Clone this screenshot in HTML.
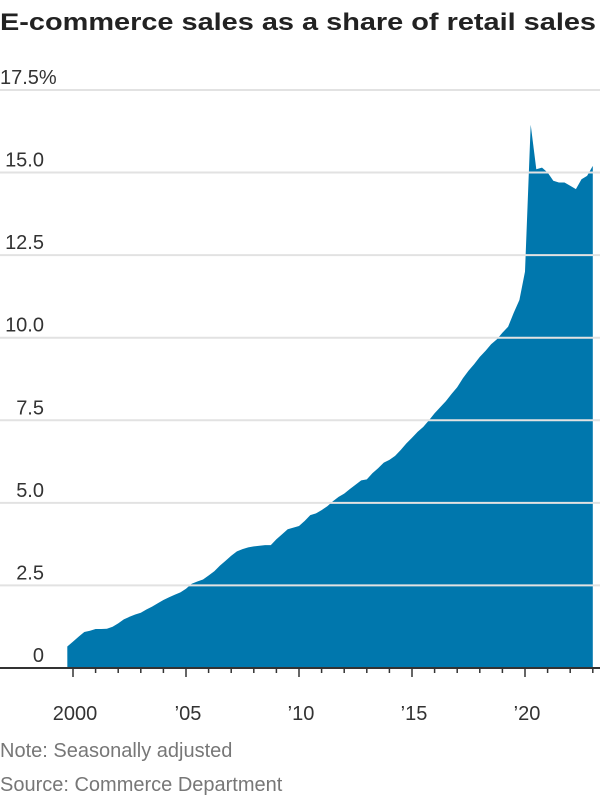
<!DOCTYPE html>
<html><head><meta charset="utf-8"><style>
html,body{margin:0;padding:0;background:#fff;}
svg{display:block;font-family:"Liberation Sans",sans-serif;}
</style></head><body>
<svg id="chart" width="600" height="800" viewBox="0 0 600 800">
<text x="0" y="30" font-size="24" font-weight="bold" fill="#222" textLength="596" lengthAdjust="spacingAndGlyphs">E-commerce sales as a share of retail sales</text>
<g id="grid"></g>
<path id="area" fill="#0077ad"></path>
<g id="gridTop"></g>
<g id="xaxis"></g>
<text x="0" y="757" font-size="20" fill="#777">Note: Seasonally adjusted</text>
<text x="0" y="791" font-size="20" fill="#777">Source: Commerce Department</text>
</svg>
<script>
const startYear = 1999.75;
const shares = [0.65,
0.8,0.95,1.09,1.13, 1.18,1.18,1.19,1.25, 1.35,1.47,1.55,1.62, 1.67,1.77,1.86,1.96,
2.06,2.14,2.22,2.29, 2.40,2.55,2.62,2.68, 2.80,2.93,3.10,3.25, 3.40,3.53,3.60,3.65,
3.68,3.70,3.72,3.72, 3.90,4.05,4.20,4.25, 4.30,4.45,4.63,4.68, 4.78,4.90,5.05,5.18,
5.28,5.42,5.55,5.68, 5.71,5.90,6.05,6.22, 6.30,6.42,6.60,6.80, 6.97,7.15,7.30,7.50,
7.71,7.90,8.08,8.30, 8.50,8.77,9.00,9.20, 9.42,9.60,9.80,9.95, 10.15,10.33,10.75,11.14,
12.0,16.45,15.1,15.15, 15.0,14.75,14.7,14.7, 14.6,14.5,14.8,14.9, 15.2];
const yTicks = [0,2.5,5,7.5,10,12.5,15,17.5];
const yTickLabels = ["0","2.5","5.0","7.5","10.0","12.5","15.0","17.5%"];
const xMajorYears = [2000,2005,2010,2015,2020];
const xMajorLabels = ["2000","\u201905","\u201910","\u201915","\u201920"];
const NS="http://www.w3.org/2000/svg";
const x0=73, pxYear=22.6, y0=668, pxUnit=33.03;
const xs=t=>x0+(t-2000)*pxYear;
const ys=v=>y0-v*pxUnit;
function mk(tag,attrs,parent){const e=document.createElementNS(NS,tag);for(const k in attrs)e.setAttribute(k,attrs[k]);parent.appendChild(e);return e;}
const grid=document.getElementById('grid'), gridTop=document.getElementById('gridTop');
yTicks.forEach((v,i)=>{
  if(v>0){
    const l=mk('line',{x1:0,x2:600,y1:ys(v),y2:ys(v),stroke:'#e2e2e2','stroke-width':2},gridTop);
    
    
  }
  const isTop=i===yTicks.length-1;
  const t=mk('text',{x:isTop?0:44,y:ys(v)-6,'font-size':20,fill:'#333','text-anchor':isTop?'start':'end'},grid);
  t.textContent=yTickLabels[i];
  
  
});
let d='M'+xs(startYear)+','+y0;
shares.forEach((v,i)=>{d+=' L'+xs(startYear+i*0.25).toFixed(1)+','+ys(v).toFixed(1);});
d+=' L'+xs(startYear+(shares.length-1)*0.25).toFixed(1)+','+y0+' Z';
document.getElementById('area').setAttribute('d',d);
const xa=document.getElementById('xaxis');
const base=mk('line',{x1:0,x2:600,y1:y0,y2:y0,stroke:'#333','stroke-width':2},xa);


for(let yr=2000;yr<=2023;yr++){
  const major=xMajorYears.indexOf(yr);
  const tk=mk('line',{x1:xs(yr),x2:xs(yr),y1:y0,y2:y0+(major>=0?9:5),stroke:'#333','stroke-width':1.5},xa);
  
  
  if(major>=0){
    const t=mk('text',{x:xs(yr)+2,y:720,'font-size':20,fill:'#333','text-anchor':'middle'},xa);
    t.textContent=xMajorLabels[major];
    
    
  }
}
</script>
</body></html>
